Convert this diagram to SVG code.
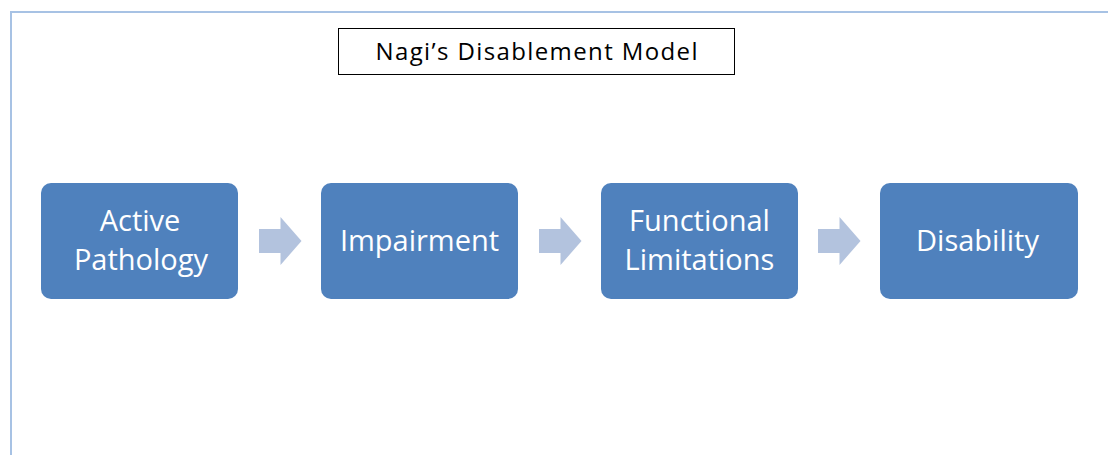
<svg xmlns="http://www.w3.org/2000/svg" width="1108" height="455" viewBox="0 0 1108 455">
  <style>
    .frame { fill: none; stroke: #a7c2e4; stroke-width: 2; }
    .title-box { fill: #ffffff; stroke: #000000; stroke-width: 1; }
    .title { font-family: "Open Sans", "Noto Sans", sans-serif; font-size: 24px; fill: #000000; text-anchor: middle; }
    .step { fill: #4f81bd; }
    .label { font-family: "Open Sans", "Noto Sans", sans-serif; font-size: 29px; fill: #ffffff; text-anchor: middle; }
    .flow { fill: #b3c3de; }
  </style>
  <defs>
    <path id="chevron" d="M0,12 H21.5 V0 L42.5,24 L21.5,48 V36 H0 Z"/>
  </defs>

  <rect width="1108" height="455" fill="#ffffff"/>
  <!-- slide frame: top and left edges -->
  <path class="frame" d="M11,455 V12 H1108"/>

  <g id="title">
    <rect class="title-box" x="338.5" y="28.5" width="396" height="46"/>
    <text class="title" x="536.5" y="60" textLength="322" lengthAdjust="spacing">Nagi’s Disablement Model</text>
  </g>

  <g id="active-pathology">
    <rect class="step" x="41" y="183" width="197" height="116" rx="10"/>
    <text class="label" x="140" y="231">Active</text>
    <text class="label" x="141" y="270">Pathology</text>
  </g>

  <g id="impairment">
    <rect class="step" x="321" y="183" width="197" height="116" rx="10"/>
    <text class="label" x="419.5" y="251">Impairment</text>
  </g>

  <g id="functional-limitations">
    <rect class="step" x="601" y="183" width="197" height="116" rx="10"/>
    <text class="label" x="699.5" y="231">Functional</text>
    <text class="label" x="699.5" y="270">Limitations</text>
  </g>

  <g id="disability">
    <rect class="step" x="880" y="183" width="198" height="116" rx="10"/>
    <text class="label" x="977.5" y="251">Disability</text>
  </g>

  <g id="connectors">
    <use href="#chevron" class="flow" x="259" y="217"/>
    <use href="#chevron" class="flow" x="539" y="217"/>
    <use href="#chevron" class="flow" x="818" y="217"/>
  </g>
</svg>
